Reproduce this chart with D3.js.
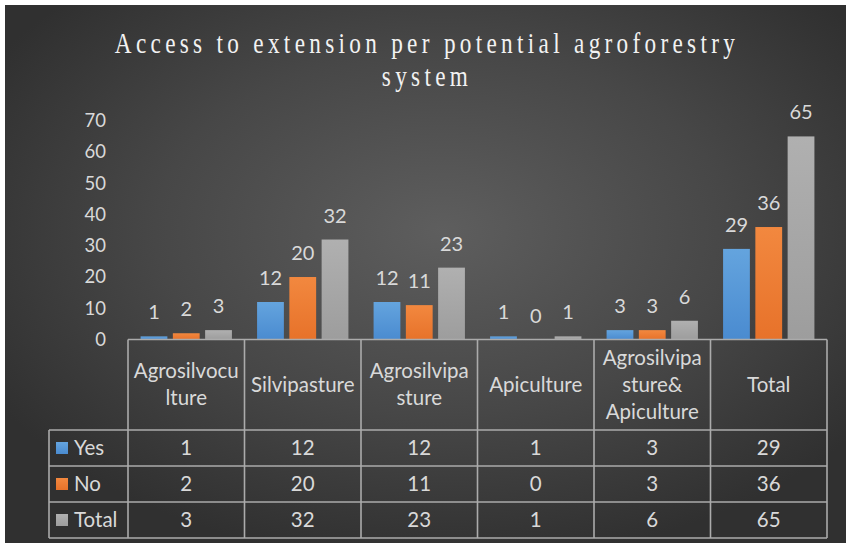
<!DOCTYPE html>
<html>
<head>
<meta charset="utf-8">
<script src="https://cdn.jsdelivr.net/npm/d3@7"></script>
<style>
  html, body { margin: 0; padding: 0; background: #ffffff; }
  svg { display: block; }
</style>
</head>
<body>
<svg id="chart" width="850" height="546"></svg>
<script>
// ---- data ----
const categories = ["Agrosilvoculture", "Silvipasture", "Agrosilvipasture", "Apiculture", "Agrosilvipasture& Apiculture", "Total"];
const categoryLines = [["Agrosilvocu", "lture"], ["Silvipasture"], ["Agrosilvipa", "sture"], ["Apiculture"], ["Agrosilvipa", "sture&", "Apiculture"], ["Total"]];
const seriesNames = ["Yes", "No", "Total"];
const yesValues = [1, 12, 12, 1, 3, 29];
const noValues = [2, 20, 11, 0, 3, 36];
const totalValues = [3, 32, 23, 1, 6, 65];
const yTickValues = [0, 10, 20, 30, 40, 50, 60, 70];
const titleLines = ["Access to extension per potential agroforestry", "system"];

const seriesValues = { Yes: yesValues, No: noValues, Total: totalValues };
const seriesColors = { Yes: ["#64a4de", "#4a8bd0"], No: ["#f2883f", "#e7722a"], Total: ["#b0b0b0", "#9d9d9d"] };

const labelFont = "Lato, 'Open Sans', sans-serif";
const textColor = "#d9d9d9";
const cellSize = "20.5px";

const svg = d3.select("#chart");
const defs = svg.append("defs");

// dark slide-style background
const bg = defs.append("radialGradient").attr("id", "bgGrad")
  .attr("cx", "52%").attr("cy", "42%").attr("r", "62%");
bg.append("stop").attr("offset", "0%").attr("stop-color", "#5e5e5e");
bg.append("stop").attr("offset", "55%").attr("stop-color", "#474747");
bg.append("stop").attr("offset", "100%").attr("stop-color", "#303030");

svg.append("rect").attr("x", 5).attr("y", 5).attr("width", 841).attr("height", 538)
  .attr("fill", "url(#bgGrad)");

// bar gradients
seriesNames.forEach(s => {
  const g = defs.append("linearGradient").attr("id", "bar-" + s)
    .attr("x1", 0).attr("y1", 0).attr("x2", 0).attr("y2", 1);
  g.append("stop").attr("offset", "0%").attr("stop-color", seriesColors[s][0]);
  g.append("stop").attr("offset", "100%").attr("stop-color", seriesColors[s][1]);
});

// ---- scales ----
const plotLeft = 128, plotRight = 827, baseY = 339.5, topY = 120.8;
const x0 = d3.scaleBand().domain(categories).range([plotLeft, plotRight]).padding(0);
const x1 = d3.scaleBand().domain(seriesNames).range([0, x0.bandwidth()])
  .paddingInner(0.17).paddingOuter(0.39);
const y = d3.scaleLinear().domain([0, 70]).range([baseY, topY]);

// ---- title (narrow, letter-spaced serif) ----
const squeeze = 0.8;
const titleG = svg.append("g").attr("fill", "#f2f2f2")
  .attr("transform", `translate(427,0) scale(${squeeze},1)`)
  .style("font-family", "'Liberation Serif', 'DejaVu Serif', serif")
  .style("font-size", "29px");
const t1 = titleG.append("text").attr("x", 0).attr("y", 53).attr("text-anchor", "middle").text(titleLines[0]);
const natural = t1.node().getComputedTextLength();
const spacing = (620 / squeeze - natural) / (titleLines[0].length - 1);
t1.style("letter-spacing", spacing + "px");
titleG.append("text").attr("x", 0).attr("y", 86).attr("text-anchor", "middle")
  .style("letter-spacing", spacing + "px").text(titleLines[1]);

// ---- y axis ----
const yAxis = svg.append("g").attr("transform", `translate(${plotLeft},0)`)
  .call(d3.axisLeft(y).tickValues(yTickValues).tickSize(0).tickPadding(22));
yAxis.select(".domain").remove();
yAxis.selectAll("text").attr("fill", textColor)
  .style("font-family", labelFont).style("font-size", "18.5px");

// ---- bars ----
const catG = svg.append("g").selectAll("g").data(categories).join("g")
  .attr("transform", d => `translate(${x0(d)},0)`);

const barData = (c, i) => seriesNames.map(s => ({ key: s, value: seriesValues[s][i] }));

catG.selectAll("rect").data(barData).join("rect")
  .attr("x", d => x1(d.key))
  .attr("width", x1.bandwidth())
  .attr("y", d => y(d.value))
  .attr("height", d => baseY - y(d.value))
  .attr("fill", d => `url(#bar-${d.key})`);

catG.selectAll("text.value").data(barData).join("text")
  .attr("class", "value")
  .attr("x", d => x1(d.key) + x1.bandwidth() / 2)
  .attr("y", d => y(d.value) - 17)
  .attr("text-anchor", "middle")
  .attr("fill", textColor)
  .style("font-family", labelFont).style("font-size", "20px")
  .text(d => d.value);

// ---- data table ----
const legendLeft = 49, headerBottom = 430, rowH = 36;
const rowTops = seriesNames.map((s, i) => headerBottom + i * rowH);
const tableBottom = headerBottom + seriesNames.length * rowH;
const lineColor = "#ababab";
const table = svg.append("g").attr("stroke", lineColor).attr("stroke-width", 1.6).attr("fill", "none");

// horizontal rules
table.append("line").attr("x1", plotLeft).attr("x2", plotRight).attr("y1", baseY).attr("y2", baseY);
[headerBottom, ...rowTops.map(t => t + rowH)].forEach(yy => {
  table.append("line").attr("x1", legendLeft).attr("x2", plotRight).attr("y1", yy).attr("y2", yy);
});
// vertical rules
table.append("line").attr("x1", legendLeft).attr("x2", legendLeft).attr("y1", headerBottom).attr("y2", tableBottom);
[...categories.map(c => x0(c)), plotRight].forEach(xx => {
  table.append("line").attr("x1", xx).attr("x2", xx).attr("y1", baseY).attr("y2", tableBottom);
});

// header labels
const headG = svg.append("g").attr("fill", textColor)
  .style("font-family", labelFont).style("font-size", cellSize);
categories.forEach((c, i) => {
  const lines = categoryLines[i];
  const lh = 27;
  const cy = (baseY + headerBottom) / 2;
  const txt = headG.append("text").attr("text-anchor", "middle");
  lines.forEach((ln, k) => {
    txt.append("tspan")
      .attr("x", x0(c) + x0.bandwidth() / 2)
      .attr("y", cy + (k - (lines.length - 1) / 2) * lh)
      .attr("dy", "0.35em")
      .text(ln);
  });
});

// rows: legend key + values
const rowG = svg.append("g").selectAll("g").data(seriesNames).join("g")
  .attr("transform", (s, i) => `translate(0,${rowTops[i]})`);
rowG.append("rect").attr("x", 56).attr("y", rowH / 2 - 6).attr("width", 12).attr("height", 12)
  .attr("fill", s => `url(#bar-${s})`);
rowG.append("text").attr("x", 74).attr("y", rowH / 2).attr("dy", "0.35em")
  .attr("fill", textColor).style("font-family", labelFont).style("font-size", cellSize)
  .text(s => s);
rowG.selectAll("text.cell").data(s => categories.map((c, i) => ({ c, v: seriesValues[s][i] }))).join("text")
  .attr("class", "cell")
  .attr("x", d => x0(d.c) + x0.bandwidth() / 2)
  .attr("y", rowH / 2).attr("dy", "0.35em")
  .attr("text-anchor", "middle")
  .attr("fill", textColor).style("font-family", labelFont).style("font-size", cellSize)
  .text(d => d.v);
</script>
</body>
</html>
